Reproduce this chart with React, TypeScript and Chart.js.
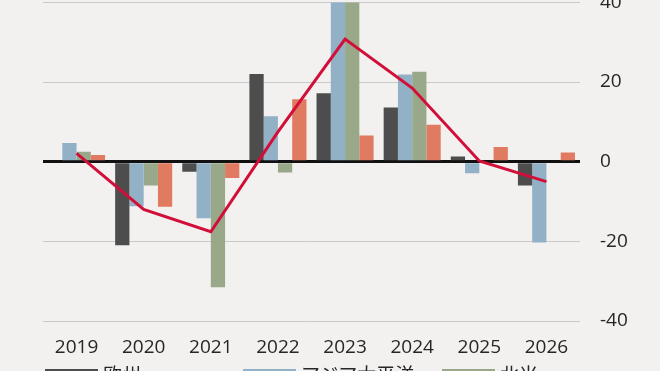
import React, { useEffect, useRef } from 'react';
import { Chart, registerables } from 'chart.js';

Chart.register(...registerables);

const years = ['2019', '2020', '2021', '2022', '2023', '2024', '2025', '2026'];
const europe = [0, -21, -2.5, 22, 17.2, 13.6, 1.3, -6];
const asiaPacific = [4.7, -11.2, -14.2, 11.4, 42, 21.9, -2.9, -20.3];
const northAmerica = [2.5, -6, -31.5, -2.7, 42, 22.6, 0, 0];
const other = [1.7, -11.3, -4.1, 15.7, 6.6, 9.3, 3.7, 2.3];
const total = [2.1, -12, -17.6, 7.5, 30.8, 18.5, 0.2, -5];

const yTicks = [-40, -20, 0, 20, 40];
const legendItems = [
  { label: '欧州', color: '#4d4d4d', left: 45 },
  { label: 'アジア太平洋', color: '#93b1c6', left: 243 },
  { label: '北米', color: '#98a888', left: 442 },
];

const BG = '#f2f1ef';
const FONT = '"Open Sans", "Noto Sans", sans-serif';

export default function App() {
  const ref = useRef<HTMLCanvasElement>(null);

  useEffect(() => {
    const chart = new Chart(ref.current!, {
      type: 'bar',
      data: {
        labels: years,
        datasets: [
          { type: 'line', label: '合計', data: total, borderColor: '#d20f39', borderWidth: 3, pointRadius: 0, fill: false, tension: 0, order: 0 } as any,
          { label: '欧州', data: europe, backgroundColor: '#4d4d4d', order: 1 },
          { label: 'アジア太平洋', data: asiaPacific, backgroundColor: '#93b1c6', order: 1 },
          { label: '北米', data: northAmerica, backgroundColor: '#98a888', order: 1 },
          { label: 'その他', data: other, backgroundColor: '#e07b62', order: 1 },
        ],
      },
      options: {
        responsive: false,
        animation: false,
        layout: { padding: { left: 43, top: 12, right: 0, bottom: 0 } },
        datasets: { bar: { categoryPercentage: 0.85, barPercentage: 1 } },
        plugins: { legend: { display: false }, tooltip: { enabled: false } },
        scales: {
          x: {
            grid: { display: false, drawTicks: false },
            border: { display: false },
            ticks: { color: '#262626', font: { family: FONT, size: 19 }, padding: 15, maxRotation: 0 },
            afterFit: (s: any) => { s.height = 40; },
          },
          y: {
            position: 'right',
            min: yTicks[0],
            max: yTicks[yTicks.length - 1],
            afterBuildTicks: (s: any) => { s.ticks = yTicks.map((v) => ({ value: v })); },
            grid: {
              drawTicks: false,
              color: (ctx: any) => (ctx.tick && ctx.tick.value === 0 ? '#111111' : '#c9c9c9'),
              lineWidth: (ctx: any) => (ctx.tick && ctx.tick.value === 0 ? 3 : 1),
            },
            border: { display: false },
            ticks: { color: '#262626', font: { family: FONT, size: 19 }, padding: 20 },
            afterFit: (s: any) => { s.width = 80; },
          },
        },
      },
    });
    return () => chart.destroy();
  }, []);

  return (
    <div style={{ position: 'fixed', left: 0, top: 0, width: 660, height: 371, overflow: 'hidden', background: BG }}>
      <div style={{ position: 'absolute', left: 0, top: -29, width: 660, height: 390 }}>
        <canvas ref={ref} width={660} height={390} style={{ display: 'block' }} />
      </div>
      {legendItems.map((it) => (
        <div key={it.label} style={{ position: 'absolute', left: it.left, top: 362, height: 30, whiteSpace: 'nowrap' }}>
          <div style={{ position: 'absolute', left: 0, top: 7, width: 53, height: 12, background: it.color }} />
          <div style={{ position: 'absolute', left: 58, top: 0, fontFamily: '"Noto Sans CJK JP", sans-serif', fontSize: 19, lineHeight: '24px', color: '#262626' }}>{it.label}</div>
        </div>
      ))}
    </div>
  );
}
